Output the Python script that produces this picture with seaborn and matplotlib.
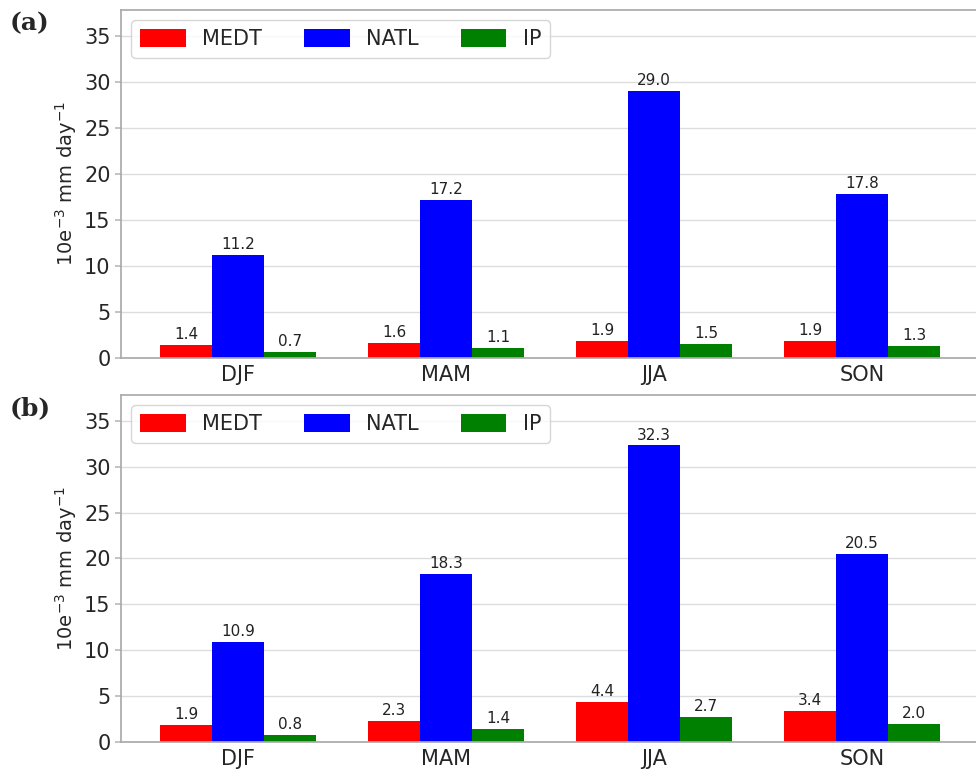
import numpy as np
import pandas as pd
import matplotlib
matplotlib.use("Agg")
import matplotlib.pyplot as plt
import seaborn as sns

seasons = ["DJF", "MAM", "JJA", "SON"]
regions = ["MEDT", "NATL", "IP"]

medt_a = [1.4, 1.6, 1.9, 1.9]
natl_a = [11.2, 17.2, 29.0, 17.8]
ip_a = [0.7, 1.1, 1.5, 1.3]

medt_b = [1.9, 2.3, 4.4, 3.4]
natl_b = [10.9, 18.3, 32.3, 20.5]
ip_b = [0.8, 1.4, 2.7, 2.0]

panel_labels = ["(a)", "(b)"]
colors = ["#ff0000", "#0000ff", "#008000"]

sns.set_theme(style="whitegrid")
plt.rcParams["font.family"] = ["DejaVu Sans"]


def make_frame(medt, natl, ip):
    rows = []
    for name, vals in zip(regions, [medt, natl, ip]):
        for s, v in zip(seasons, vals):
            rows.append({"season": s, "region": name, "value": v})
    return pd.DataFrame(rows)


fig = plt.figure(figsize=(9.76, 7.69), dpi=100)
positions = [
    [121 / 976, 1 - 358 / 769, 858 / 976, 348 / 769],
    [121 / 976, 1 - 742 / 769, 858 / 976, 347 / 769],
]
frames = [make_frame(medt_a, natl_a, ip_a), make_frame(medt_b, natl_b, ip_b)]

for pos, df, lab in zip(positions, frames, panel_labels):
    ax = fig.add_axes(pos)
    sns.barplot(data=df, x="season", y="value", hue="region", order=seasons,
                hue_order=regions, palette=colors, width=0.75, saturation=1,
                linewidth=0, edgecolor="none", ax=ax)
    for cont in ax.containers:
        ax.bar_label(cont, fmt="%.1f", fontsize=11, padding=2, color="#222222")
    ax.set_xlim(-0.5625, 3.5625)
    ax.set_ylim(0, 37.8)
    ax.set_yticks([0, 5, 10, 15, 20, 25, 30, 35])
    ax.grid(axis="x", visible=False)
    ax.grid(axis="y", color="#dddddd", linewidth=1)
    ax.set_xlabel("")
    ax.set_ylabel(r"10e$^{-3}$ mm day$^{-1}$", fontsize=14)
    ax.tick_params(axis="both", labelsize=15, length=4, color="#bbbbbb",
                   left=True, bottom=False)
    ax.tick_params(axis="x", pad=1)
    for sp in ax.spines.values():
        sp.set_color("#aaaaaa")
    leg = ax.legend(loc="upper left", ncol=3, fontsize=15, frameon=True,
                    handlelength=2.2, handleheight=1.0, columnspacing=2.0,
                    borderpad=0.4)
    leg.set_title(None)
    fig.text(0.010, pos[1] + pos[3] - 0.002, lab, fontsize=18,
             fontweight="bold", family="DejaVu Serif", va="top", ha="left")

fig.savefig("out.png", dpi=100)
